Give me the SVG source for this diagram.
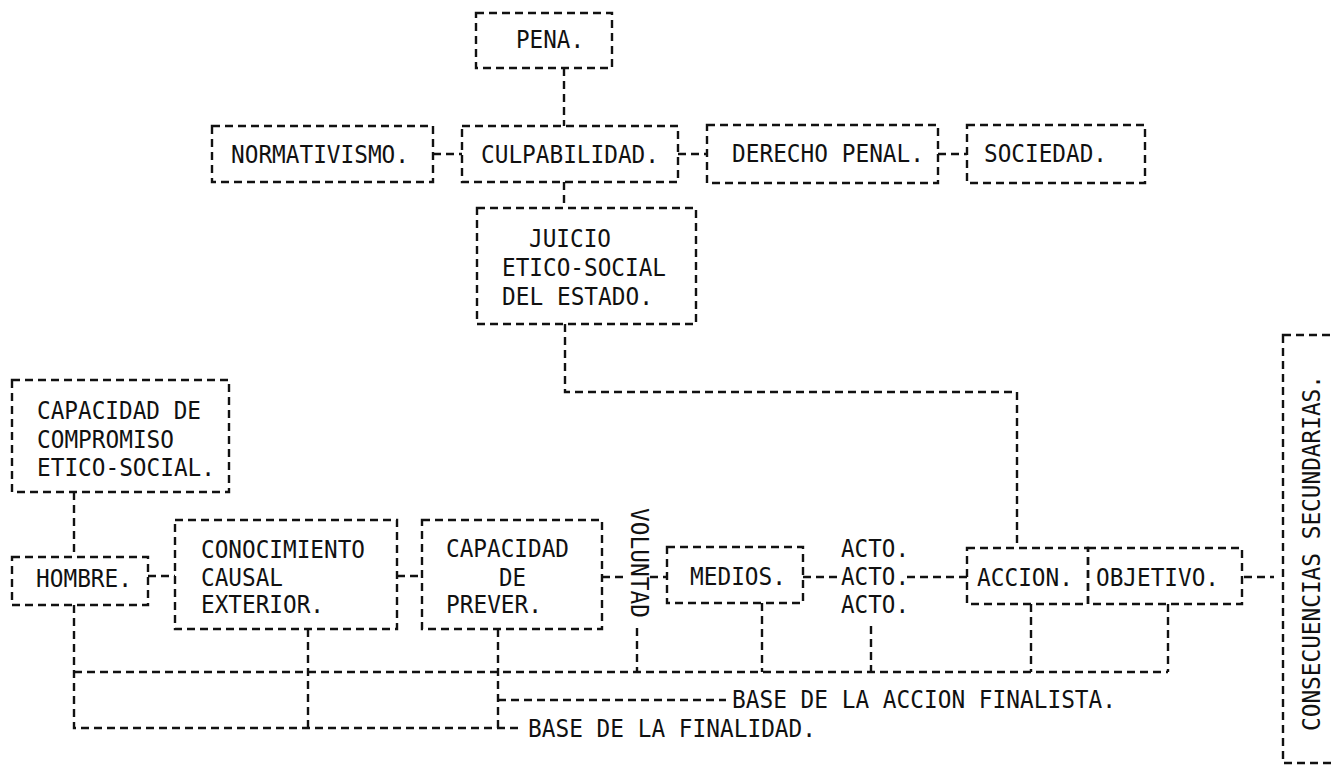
<svg xmlns="http://www.w3.org/2000/svg" width="1331" height="771" viewBox="0 0 1331 771">
<style>
.b{fill:none;stroke:#111;stroke-width:2.4;stroke-dasharray:8 5}
.c{fill:none;stroke:#111;stroke-width:2.4;stroke-dasharray:8 5}
.t{font-family:"DejaVu Sans Mono","Liberation Mono",monospace;font-size:25px;fill:#111}
</style>
<rect width="1331" height="771" fill="#fff"/>
<g id="connectors">
<path class="c" d="M564,68V126"/>
<path class="c" d="M433,154H462"/>
<path class="c" d="M678,154H707"/>
<path class="c" d="M938,154H967"/>
<path class="c" d="M564,182V208"/>
<path class="c" d="M565,324V392H1017V548"/>
<path class="c" d="M74,492V557"/>
<path class="c" d="M148,576H175"/>
<path class="c" d="M397,576H422"/>
<path class="c" d="M602,577H628"/>
<path class="c" d="M650,577H667"/>
<path class="c" d="M803,577H840"/>
<path class="c" d="M907,577H967"/>
<path class="c" d="M1244,577H1274"/>
<path class="c" d="M74,672H1168"/>
<path class="c" d="M74,605V728H520"/>
<path class="c" d="M308,629V728"/>
<path class="c" d="M498,629V728"/>
<path class="c" d="M498,700H726"/>
<path class="c" d="M637,628V672"/>
<path class="c" d="M762,603V672"/>
<path class="c" d="M871,626V672"/>
<path class="c" d="M1031,604V672"/>
<path class="c" d="M1168,604V672"/>
</g>
<g id="pena"><rect class="b" x="476" y="13" width="136" height="55"/><text class="t" x="516" y="48" textLength="68" lengthAdjust="spacingAndGlyphs">PENA.</text></g>
<g id="normativismo"><rect class="b" x="212" y="126" width="221" height="56"/><text class="t" x="231" y="163" textLength="178" lengthAdjust="spacingAndGlyphs">NORMATIVISMO.</text></g>
<g id="culpabilidad"><rect class="b" x="462" y="126" width="216" height="56"/><text class="t" x="481" y="163" textLength="178" lengthAdjust="spacingAndGlyphs">CULPABILIDAD.</text></g>
<g id="derecho-penal"><rect class="b" x="707" y="125" width="231" height="58"/><text class="t" x="732" y="162" textLength="192" lengthAdjust="spacingAndGlyphs">DERECHO PENAL.</text></g>
<g id="sociedad"><rect class="b" x="967" y="125" width="178" height="58"/><text class="t" x="984" y="162" textLength="123" lengthAdjust="spacingAndGlyphs">SOCIEDAD.</text></g>
<g id="juicio"><rect class="b" x="477" y="208" width="219" height="116"/>
<text class="t" x="529" y="247" textLength="82" lengthAdjust="spacingAndGlyphs">JUICIO</text>
<text class="t" x="502" y="276" textLength="164" lengthAdjust="spacingAndGlyphs">ETICO-SOCIAL</text>
<text class="t" x="502" y="305" textLength="151" lengthAdjust="spacingAndGlyphs">DEL ESTADO.</text></g>
<g id="capacidad-compromiso"><rect class="b" x="12" y="380" width="217" height="112"/>
<text class="t" x="37" y="419" textLength="164" lengthAdjust="spacingAndGlyphs">CAPACIDAD DE</text>
<text class="t" x="37" y="448" textLength="137" lengthAdjust="spacingAndGlyphs">COMPROMISO</text>
<text class="t" x="37" y="476" textLength="178" lengthAdjust="spacingAndGlyphs">ETICO-SOCIAL.</text></g>
<g id="hombre"><rect class="b" x="12" y="557" width="136" height="48"/><text class="t" x="36" y="587" textLength="96" lengthAdjust="spacingAndGlyphs">HOMBRE.</text></g>
<g id="conocimiento"><rect class="b" x="175" y="520" width="222" height="109"/>
<text class="t" x="201" y="558" textLength="164" lengthAdjust="spacingAndGlyphs">CONOCIMIENTO</text>
<text class="t" x="201" y="586" textLength="82" lengthAdjust="spacingAndGlyphs">CAUSAL</text>
<text class="t" x="201" y="613" textLength="123" lengthAdjust="spacingAndGlyphs">EXTERIOR.</text></g>
<g id="capacidad-prever"><rect class="b" x="422" y="520" width="180" height="109"/>
<text class="t" x="446" y="557" textLength="123" lengthAdjust="spacingAndGlyphs">CAPACIDAD</text>
<text class="t" x="499" y="586" textLength="27" lengthAdjust="spacingAndGlyphs">DE</text>
<text class="t" x="446" y="613" textLength="96" lengthAdjust="spacingAndGlyphs">PREVER.</text></g>
<g id="voluntad"><text class="t" transform="translate(631,508) rotate(90)" textLength="110" lengthAdjust="spacingAndGlyphs">VOLUNTAD</text></g>
<g id="medios"><rect class="b" x="667" y="547" width="136" height="56"/><text class="t" x="690" y="585" textLength="96" lengthAdjust="spacingAndGlyphs">MEDIOS.</text></g>
<g id="acto">
<text class="t" x="841" y="557" textLength="68" lengthAdjust="spacingAndGlyphs">ACTO.</text>
<text class="t" x="841" y="585" textLength="68" lengthAdjust="spacingAndGlyphs">ACTO.</text>
<text class="t" x="841" y="613" textLength="68" lengthAdjust="spacingAndGlyphs">ACTO.</text></g>
<g id="accion"><rect class="b" x="967" y="548" width="121" height="56"/><text class="t" x="977" y="586" textLength="96" lengthAdjust="spacingAndGlyphs">ACCION.</text></g>
<g id="objetivo"><rect class="b" x="1088" y="548" width="154" height="56"/><text class="t" x="1096" y="586" textLength="123" lengthAdjust="spacingAndGlyphs">OBJETIVO.</text></g>
<g id="consecuencias"><rect class="b" x="1283" y="335" width="70" height="428"/><text class="t" transform="translate(1320,731) rotate(-90)" textLength="356" lengthAdjust="spacingAndGlyphs">CONSECUENCIAS SECUNDARIAS.</text></g>
<g id="labels">
<text class="t" x="732" y="708" textLength="384" lengthAdjust="spacingAndGlyphs">BASE DE LA ACCION FINALISTA.</text>
<text class="t" x="528" y="737" textLength="288" lengthAdjust="spacingAndGlyphs">BASE DE LA FINALIDAD.</text>
</g>
</svg>
